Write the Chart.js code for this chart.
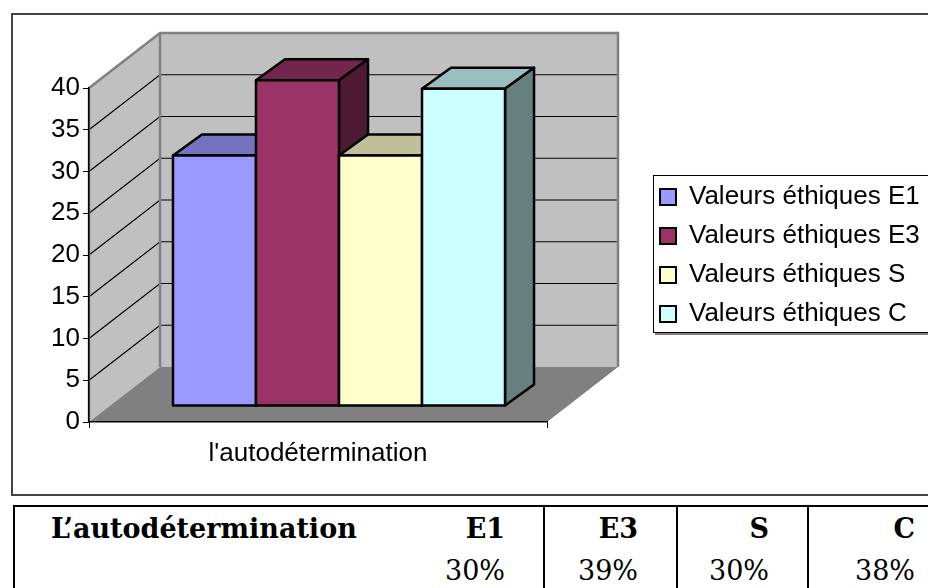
<!DOCTYPE html>
<html>
<head>
<meta charset="utf-8">
<script src="https://cdn.jsdelivr.net/npm/chart.js@4/dist/chart.umd.min.js"></script>
<style>
  html, body { margin: 0; padding: 0; background: #fff; width: 928px; height: 588px; overflow: hidden; }
  #frame { position: absolute; left: 11px; top: 13px; width: 940px; height: 479px; border: 2px solid #444; }
  #wrap { position: absolute; left: 0; top: 0; width: 928px; height: 500px; }
  #tbl { position: absolute; left: 13px; top: 505px; width: 940px; border-collapse: collapse; table-layout: fixed;
         font-family: "DejaVu Serif", serif; font-size: 27px; color: #000; }
  #tbl td { border: 2.5px solid #000; padding: 0 38px 0 0; text-align: right; height: 42px; white-space: nowrap; }
  #tbl td.lab { text-align: left; padding-left: 36px; border-right: none; font-weight: bold; }
  #tbl tr:first-child td { font-weight: bold; border-bottom: none; }
  #tbl tr:last-child td { border-top: none; }
  #tbl td.nl { border-left: none; }
</style>
</head>
<body>
<div id="frame"></div>
<div id="wrap"><canvas id="chart" width="928" height="500"></canvas></div>
<table id="tbl"></table>
<script>
// ── 3D column chart: valeurs éthiques / l'autodétermination ──

const categories = ["l'autodétermination"];
const seriesNames = ['Valeurs éthiques E1', 'Valeurs éthiques E3', 'Valeurs éthiques S', 'Valeurs éthiques C'];
const seriesValues = [30, 39, 30, 38];
const seriesColors = ['#9999FF', '#993366', '#FFFFCC', '#CCFFFF'];
const yMin = 0, yMax = 40, yStep = 5;

// table under the chart
const tableTitle = 'L’autodétermination';
const tableHeads = ['E1', 'E3', 'S', 'C'];
const tablePercents = ['30%', '39%', '30%', '38%'];

// darken a hex colour (top and side faces of the columns)
function shade(hex, f) {
  const n = parseInt(hex.slice(1), 16);
  const r = Math.round(((n >> 16) & 255) * f), g = Math.round(((n >> 8) & 255) * f), b = Math.round((n & 255) * f);
  return `rgb(${r},${g},${b})`;
}

const WALL = { x: 71, y: -55 };   // depth of the whole plot box
const FRONT = { x: 21, y: -16 };  // where the columns start in depth
const COL = { x: 29, y: -21 };    // depth of a column

const depth3d = {
  id: 'depth3d',
  afterLayout(chart) {
    // put the legend where the original sits
    const lg = chart.legend;
    lg.left = 647; lg.top = 171; lg.width = 300; lg.right = 947;
    lg.bottom = 588; lg.height = 588 - 171;
  },
  beforeDraw(chart) {
    const { ctx, chartArea: a } = chart;
    const ys = chart.scales.y;
    const top = ys.getPixelForValue(yMax), bot = ys.getPixelForValue(yMin);
    ctx.save();

    // legend frame with shadow
    ctx.fillStyle = '#808080';
    ctx.fillRect(655, 177, 290, 158);
    ctx.fillStyle = '#fff';
    ctx.fillRect(653, 175, 290, 158);
    ctx.strokeStyle = '#000'; ctx.lineWidth = 1;
    ctx.strokeRect(653.5, 175.5, 290, 157);

    // side wall
    ctx.fillStyle = '#C0C0C0';
    ctx.beginPath();
    ctx.moveTo(a.left, top); ctx.lineTo(a.left + WALL.x, top + WALL.y);
    ctx.lineTo(a.left + WALL.x, bot + WALL.y); ctx.lineTo(a.left, bot);
    ctx.closePath(); ctx.fill();
    // back wall
    ctx.fillRect(a.left + WALL.x, top + WALL.y, a.right - a.left, bot - top);
    // floor
    ctx.fillStyle = '#808080';
    ctx.beginPath();
    ctx.moveTo(a.left, bot); ctx.lineTo(a.right, bot);
    ctx.lineTo(a.right + WALL.x, bot + WALL.y); ctx.lineTo(a.left + WALL.x, bot + WALL.y);
    ctx.closePath(); ctx.fill();

    // gridlines on both walls
    ctx.strokeStyle = '#000'; ctx.lineWidth = 1.2;
    ys.ticks.forEach(t => {
      if (t.value === yMin || t.value === yMax) return;
      const py = ys.getPixelForValue(t.value);
      ctx.beginPath();
      ctx.moveTo(a.left, py);
      ctx.lineTo(a.left + WALL.x, py + WALL.y);
      ctx.lineTo(a.right + WALL.x, py + WALL.y);
      ctx.stroke();
    });

    // wall edges
    ctx.strokeStyle = '#808080'; ctx.lineWidth = 2.5;
    ctx.beginPath();
    ctx.moveTo(a.left, top);
    ctx.lineTo(a.left + WALL.x, top + WALL.y);
    ctx.lineTo(a.right + WALL.x, top + WALL.y);
    ctx.lineTo(a.right + WALL.x, bot + WALL.y);
    ctx.moveTo(a.left + WALL.x, top + WALL.y);
    ctx.lineTo(a.left + WALL.x, bot + WALL.y);
    ctx.moveTo(a.left, top); ctx.lineTo(a.left, bot);
    ctx.stroke();
    ctx.restore();
  },
  beforeDatasetsDraw(chart) {
    const ctx = chart.ctx;
    ctx.save();
    ctx.strokeStyle = '#000'; ctx.lineWidth = 2.5; ctx.lineJoin = 'round';
    chart.data.datasets.forEach((ds, i) => {
      const el = chart.getDatasetMeta(i).data[0];
      if (!el) return;
      const l = el.x - el.width / 2 + FRONT.x, r = el.x + el.width / 2 + FRONT.x;
      const t = el.y + FRONT.y, b = el.base + FRONT.y;
      const col = ds.backgroundColor;
      const face = (pts, fill) => {
        ctx.beginPath();
        pts.forEach(([px, py], k) => k ? ctx.lineTo(px, py) : ctx.moveTo(px, py));
        ctx.closePath();
        ctx.fillStyle = fill; ctx.fill(); ctx.stroke();
      };
      // top
      face([[l, t], [l + COL.x, t + COL.y], [r + COL.x, t + COL.y], [r, t]], shade(col, 0.75));
      // side
      face([[r, t], [r + COL.x, t + COL.y], [r + COL.x, b + COL.y], [r, b]], shade(col, 0.5));
      // front
      face([[l, t], [r, t], [r, b], [l, b]], col);
    });
    ctx.restore();
    return false;
  }
};

const axisFont = { family: 'Liberation Sans', size: 26 };

new Chart(document.getElementById('chart'), {
  type: 'bar',
  data: {
    labels: categories,
    datasets: seriesNames.map((name, i) => ({
      label: name,
      data: [seriesValues[i]],
      backgroundColor: seriesColors[i],
      borderColor: '#000',
      borderWidth: 2
    }))
  },
  options: {
    responsive: false,
    devicePixelRatio: 1,
    animation: false,
    categoryPercentage: 0.725,
    barPercentage: 1,
    layout: { padding: { left: 0, top: 88, right: 381, bottom: 0 } },
    plugins: {
      legend: {
        position: 'chartArea',
        align: 'start',
        labels: {
          color: '#000',
          font: { family: 'Liberation Sans', size: 26 },
          boxWidth: 16,
          boxHeight: 16,
          padding: 13
        }
      },
      tooltip: { enabled: false }
    },
    scales: {
      x: {
        afterFit: s => { s.height = 78; },
        grid: { drawOnChartArea: false, tickLength: 6, color: '#000', offset: true },
        border: { display: true, color: '#000', width: 1.5 },
        ticks: { color: '#000', font: axisFont, padding: 10 }
      },
      y: {
        min: yMin, max: yMax,
        afterFit: s => { s.width = 89; },
        grid: { drawOnChartArea: false, tickLength: 6, color: '#000' },
        border: { display: true, color: '#000', width: 1.5 },
        ticks: { stepSize: yStep, color: '#000', font: axisFont, padding: 3 }
      }
    }
  },
  plugins: [depth3d]
});

// table
const tbl = document.getElementById('tbl');
tbl.innerHTML =
  '<colgroup><col style="width:387px"><col style="width:143px"><col style="width:133px"><col style="width:131px"><col style="width:146px"></colgroup>' +
  '<tr><td class="lab">' + tableTitle + '</td>' + tableHeads.map((h, i) => `<td${i ? '' : ' class="nl"'}>${h}</td>`).join('') + '</tr>' +
  '<tr><td class="lab"></td>' + tablePercents.map((p, i) => `<td${i ? '' : ' class="nl"'}>${p}</td>`).join('') + '</tr>';
</script>
</body>
</html>
